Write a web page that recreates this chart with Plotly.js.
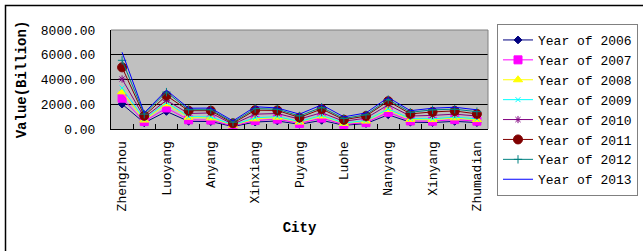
<!DOCTYPE html>
<html>
<head>
<meta charset="utf-8">
<script src="https://cdn.plot.ly/plotly-3.0.1.min.js"></script>
<style>html,body{margin:0;padding:0;background:#fff;}#chart{width:643px;height:251px;}</style>
</head>
<body>
<div id="chart"></div>
<script>
const cities = ["Zhengzhou","Kaifeng","Luoyang","Pingdingshan","Anyang","Hebi","Xinxiang","Jiaozuo","Puyang","Xuchang","Luohe","Sanmenxia","Nanyang","Shangqiu","Xinyang","Zhoukou","Zhumadian"];
const years = ["Year of 2006","Year of 2007","Year of 2008","Year of 2009","Year of 2010","Year of 2011","Year of 2012","Year of 2013"];

const y2006 = [2013, 500, 1420, 620, 600, 200, 560, 650, 380, 700, 300, 440, 1150, 550, 520, 620, 520];
const y2007 = [2487, 600, 1700, 740, 720, 250, 680, 800, 450, 880, 360, 520, 1350, 650, 630, 760, 630];
const y2008 = [3004, 720, 2030, 950, 900, 300, 820, 950, 560, 1050, 450, 640, 1580, 780, 760, 900, 760];
const y2009 = [3308, 800, 2150, 1000, 980, 330, 900, 1000, 600, 1100, 480, 680, 1620, 840, 820, 960, 820];
const y2010 = [4041, 930, 2320, 1250, 1300, 380, 1200, 1250, 800, 1320, 620, 880, 1950, 1050, 1100, 1200, 1050];
const y2011 = [4980, 1070, 2700, 1480, 1480, 460, 1520, 1500, 930, 1620, 750, 1050, 2250, 1220, 1380, 1460, 1220];
const y2012 = [5550, 1200, 2980, 1560, 1560, 550, 1650, 1600, 1050, 1750, 850, 1150, 2380, 1350, 1550, 1600, 1400];
const y2013 = [6202, 1300, 3140, 1680, 1690, 650, 1800, 1700, 1200, 1950, 980, 1300, 2550, 1480, 1680, 1760, 1550];

const series = [y2006, y2007, y2008, y2009, y2010, y2011, y2012, y2013];
const colors = ["#000080", "#FF00FF", "#FFFF00", "#00FFFF", "#800080", "#800000", "#008080", "#0000FF"];
const symbols = ["diamond", "square", "triangle-up", "x-thin-open", "asterisk-open", "circle", "cross-thin-open", null];
const sizes = [6, 8, 8, 5, 6, 9, 6, 0];

const traces = series.map((vals, i) => {
  const t = {
    type: "scatter",
    x: cities,
    y: vals,
    name: years[i],
    line: {color: colors[i], width: 1},
    mode: symbols[i] ? "lines+markers" : "lines"
  };
  if (symbols[i]) {
    t.marker = {symbol: symbols[i], size: sizes[i], color: colors[i], line: {color: colors[i], width: 1}};
  }
  return t;
});

const mono = "'Liberation Mono', 'Courier New', monospace";
const L = 111, R = 488, T = 30, B = 129, W = 643, H = 251;
const px2x = p => (p - L) / (R - L);
const py2y = p => (B - p) / (B - T);

const layout = {
  width: W, height: H,
  margin: {l: L, r: W - R, t: T, b: H - B, pad: 0, autoexpand: false},
  paper_bgcolor: "#ffffff",
  plot_bgcolor: "#C0C0C0",
  showlegend: true,
  font: {family: mono, color: "#000", size: 13},
  xaxis: {
    type: "category",
    tickmode: "array",
    tickvals: cities,
    ticktext: cities.map((c, i) => i % 2 === 0 ? c : ""),
    tickangle: -90,
    ticks: "inside",
    ticklen: 5,
    tickcolor: "#000",
    tickson: "boundaries",
    showgrid: false,
    showline: true,
    linecolor: "#000",
    linewidth: 1,
    ticklabelstandoff: 6,
    tickfont: {family: mono, size: 13, color: "#000"},
    title: {text: "City", font: {family: mono, size: 14, color: "#000", weight: "bold"}, standoff: 11},
    range: [-0.5, cities.length - 0.5],
    automargin: false,
    fixedrange: true
  },
  yaxis: {
    range: [0, 8000],
    tickmode: "linear",
    tick0: 0,
    dtick: 2000,
    tickformat: ".2f",
    ticks: "",
    showgrid: true,
    gridcolor: "#000",
    gridwidth: 1,
    zeroline: false,
    showline: true,
    linecolor: "#000",
    linewidth: 1,
    ticklabelstandoff: 12,
    tickfont: {family: mono, size: 13, color: "#000"},
    title: {text: "Value(Billion)", font: {family: mono, size: 14, color: "#000", weight: "bold"}, standoff: 10},
    automargin: false,
    fixedrange: true
  },
  legend: {
    x: px2x(497), y: py2y(24),
    xanchor: "left", yanchor: "top",
    bgcolor: "#ffffff",
    bordercolor: "#808080",
    borderwidth: 1,
    font: {family: mono, size: 13, color: "#000"},
    tracegroupgap: 0,
    itemwidth: 30,
    maxheight: 240
  },
  shapes: [
    {type: "line", xref: "paper", yref: "paper", x0: 0, x1: 1, y0: 1, y1: 1, line: {color: "#808080", width: 1}},
    {type: "line", xref: "paper", yref: "paper", x0: 1, x1: 1, y0: 0, y1: 1, line: {color: "#808080", width: 1}},
    {type: "rect", xref: "paper", yref: "paper", x0: px2x(5.5), x1: px2x(660), y0: py2y(5.5), y1: py2y(270), line: {color: "#000", width: 1.5}}
  ]
};

Plotly.newPlot("chart", traces, layout, {displayModeBar: false, staticPlot: true});
</script>
</body>
</html>
